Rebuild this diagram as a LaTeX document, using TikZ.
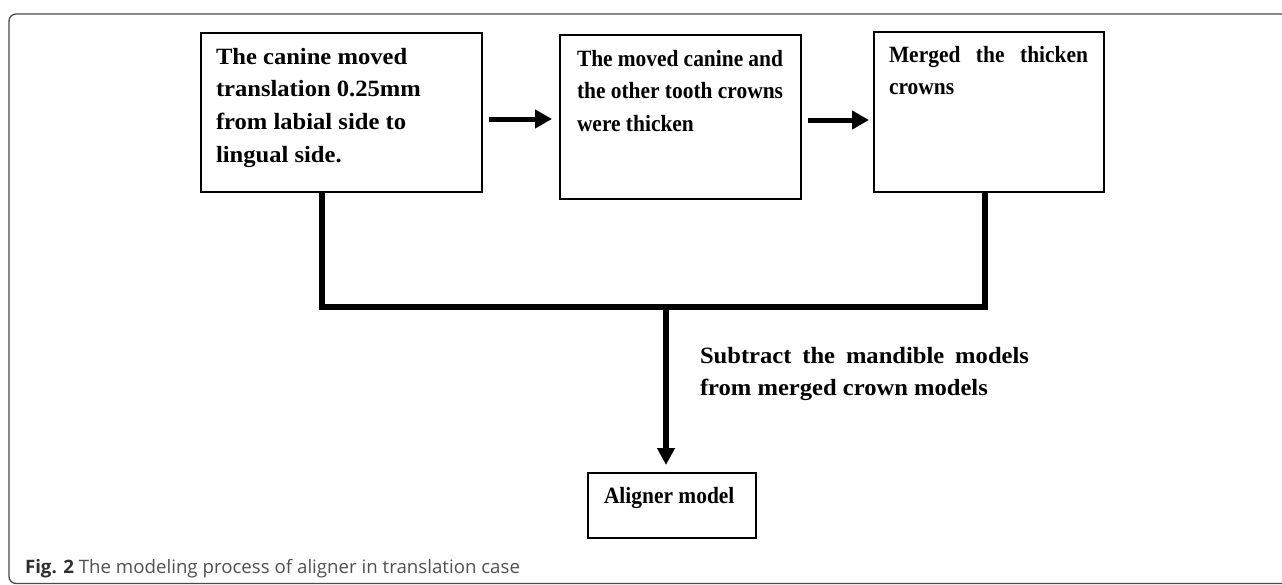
\documentclass[tikz,border=0pt]{standalone}
\usepackage{fontspec}
\usepackage{graphicx}
\setmainfont{Liberation Serif}
\newfontfamily\sera[FakeStretch=1.055]{Liberation Serif}
\newfontfamily\serb[FakeStretch=0.92]{Liberation Serif}
\newfontfamily\capfont{Open Sans}
\usetikzlibrary{arrows.meta}
\definecolor{framegray}{HTML}{4A4A4A}
\definecolor{capgray}{HTML}{2E2E2E}
\definecolor{caplight}{HTML}{505050}
\tikzset{
  box/.style={draw, line width=2.7pt, rectangle, anchor=north west, inner sep=0pt, outer sep=0pt},
  txt/.style={anchor=base west, inner sep=0pt, outer sep=0pt},
  conn/.style={line width=5.5pt, line join=miter},
  harrow/.style={line width=5pt, -{Triangle[length=17pt,width=18pt]}},
  varrow/.style={line width=6pt, -{Triangle[length=17pt,width=17pt]}},
  frame/.style={draw=framegray, line width=1.3pt, rounded corners=7pt}
}
\newcommand{\fa}{\sera\bfseries\fontsize{23.3}{32.7}\selectfont}
\newcommand{\fb}{\serb\bfseries\fontsize{23.3}{32.7}\selectfont}
\begin{document}
\begin{tikzpicture}[x=1pt,y=-1pt]
\useasboundingbox (0,0) rectangle (1282,584);
% outer frame
\draw[frame] (1300,14) -- (9,14) -- (9,583.5) -- (1300,583.5);

% boxes
\node[box, minimum width=281pt, minimum height=159pt] (b1) at (201,33) {};
\node[box, minimum width=241pt, minimum height=164pt] (b2) at (560,35) {};
\node[box, minimum width=230pt, minimum height=160pt] (b3) at (874,32) {};
\node[box, minimum width=168pt, minimum height=65pt] (al) at (588,473) {};

% texts
\node[txt] (t1) at (216,64) {\parbox[t]{270pt}{\raggedright\fa
The canine moved\\
translation 0.25mm\\
from labial side to\\
lingual side.}};
\node[txt] (t2) at (577,66) {\parbox[t]{220pt}{\raggedright\fb
\makebox[206pt][s]{The moved canine and}\\
\makebox[206pt][s]{the other tooth crowns}\\
were thicken}};
\node[txt] (t3) at (889,62) {\parbox[t]{210pt}{\raggedright\fb
\makebox[199pt][s]{Merged the thicken}\\
crowns}};
\node[txt] (t4) at (700,363) {\parbox[t]{340pt}{\raggedright\fa
\makebox[329pt][s]{Subtract the mandible models}\\
from merged crown models}};
\node[txt] (t5) at (604,503) {\fb Aligner model};

% caption
\node[txt] (cap) at (25,573) {\resizebox{495pt}{\height}{\capfont\fontsize{18.5}{20}\selectfont\textcolor{capgray}{\textbf{Fig. 2}} \textcolor{caplight}{The modeling process of aligner in translation case}}};

% horizontal arrows
\coordinate (ay1) at (0,119);
\coordinate (ay2) at (0,120);
\draw[harrow, shorten <=7pt, shorten >=8pt] (b1.east |- ay1) -- (b2.west |- ay1);
\draw[harrow, shorten <=7pt, shorten >=5pt] (b2.east |- ay2) -- (b3.west |- ay2);

% bracket connector
\coordinate (jl) at (322,307);
\coordinate (jr) at (985,307);
\coordinate (jm) at (666,307);
\draw[conn] (b1.south -| jl) -- (jl) -- (jr) -- (b3.south -| jr);
\draw[varrow, shorten >=8pt] (jm) -- (al.north -| jm);
\end{tikzpicture}
\end{document}
